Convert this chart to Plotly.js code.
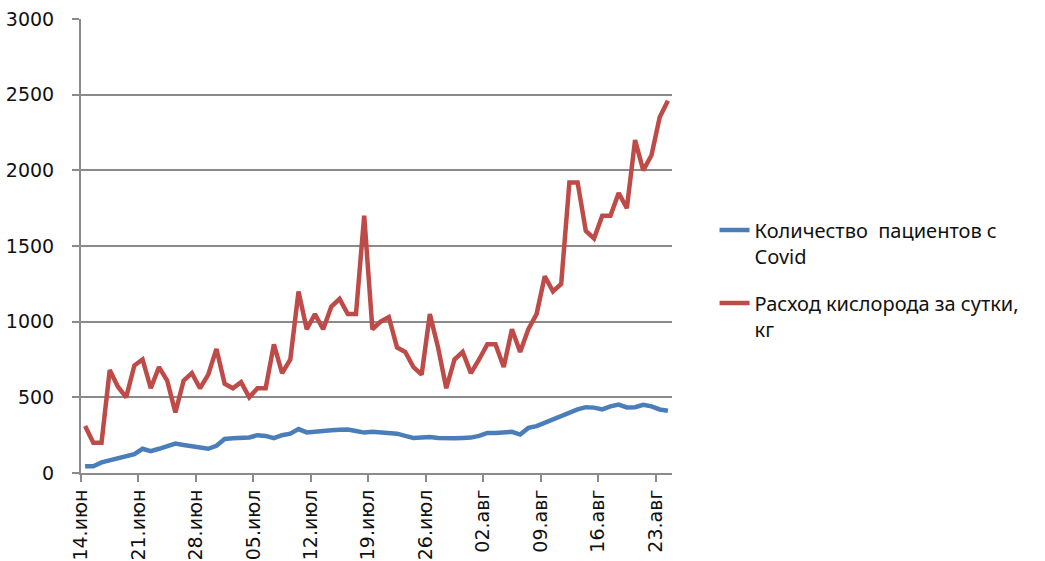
<!DOCTYPE html>
<html>
<head>
<meta charset="utf-8">
<script src="https://cdn.plot.ly/plotly-3.0.1.min.js"></script>
<style>
  html, body { margin: 0; padding: 0; background: #ffffff; }
  #chart { width: 1045px; height: 561px; }
</style>
</head>
<body>
<div id="chart"></div>
<script>
// Dates (one point per day, 2021)
const dates = [
  "2021-06-14","2021-06-15","2021-06-16","2021-06-17","2021-06-18","2021-06-19","2021-06-20",
  "2021-06-21","2021-06-22","2021-06-23","2021-06-24","2021-06-25","2021-06-26","2021-06-27",
  "2021-06-28","2021-06-29","2021-06-30","2021-07-01","2021-07-02","2021-07-03","2021-07-04",
  "2021-07-05","2021-07-06","2021-07-07","2021-07-08","2021-07-09","2021-07-10","2021-07-11",
  "2021-07-12","2021-07-13","2021-07-14","2021-07-15","2021-07-16","2021-07-17","2021-07-18",
  "2021-07-19","2021-07-20","2021-07-21","2021-07-22","2021-07-23","2021-07-24","2021-07-25",
  "2021-07-26","2021-07-27","2021-07-28","2021-07-29","2021-07-30","2021-07-31","2021-08-01",
  "2021-08-02","2021-08-03","2021-08-04","2021-08-05","2021-08-06","2021-08-07","2021-08-08",
  "2021-08-09","2021-08-10","2021-08-11","2021-08-12","2021-08-13","2021-08-14","2021-08-15",
  "2021-08-16","2021-08-17","2021-08-18","2021-08-19","2021-08-20","2021-08-21","2021-08-22",
  "2021-08-23","2021-08-24"
];

// Количество пациентов с Covid
const patients = [
  45, 45, 70, 85, 100, 110, 125,
  160, 145, 160, 180, 195, 185, 175,
  165, 160, 180, 225, 230, 230, 235,
  250, 245, 230, 250, 260, 290, 268,
  275, 282, 282, 285, 287, 278, 267,
  272, 268, 265, 260, 245, 232, 235,
  238, 232, 228, 230, 232, 234, 245,
  265, 265, 268, 272, 254, 298, 310,
  331, 355, 380, 400, 420, 435, 432,
  420, 440, 452, 433, 435, 450, 440,
  420, 412
];

// Расход кислорода за сутки, кг
const oxygen = [
  310, 200, 200, 680, 570, 500, 710,
  750, 560, 700, 610, 400, 610, 660,
  560, 650, 820, 590, 560, 600, 500,
  560, 560, 850, 660, 750, 1200, 950,
  1050, 950, 1100, 1150, 1050, 1050, 1700,
  950, 1000, 1030, 830, 800, 700, 650,
  1050, 830, 560, 750, 800, 660, 750,
  850, 850, 700, 950, 800, 950, 1050,
  1300, 1200, 1250, 1920, 1920, 1600, 1550,
  1700, 1700, 1850, 1750, 2200, 2000, 2100,
  2350, 2460
];

const tickDates = ["2021-06-14","2021-06-21","2021-06-28","2021-07-05","2021-07-12","2021-07-19",
                   "2021-07-26","2021-08-02","2021-08-09","2021-08-16","2021-08-23"];
const tickLabels = ["14.июн","21.июн","28.июн","05.июл","12.июл","19.июл",
                    "26.июл","02.авг","09.авг","16.авг","23.авг"];
const yTicks = [0, 500, 1000, 1500, 2000, 2500, 3000];

const seriesNames = ["Количество\u00a0 пациентов с<br>Covid", "Расход кислорода за сутки,<br>кг"];

const traces = [
  {
    x: dates, y: patients, type: "scatter", mode: "lines",
    name: seriesNames[0],
    xperiod: 86400000, xperiodalignment: "middle",
    line: { color: "#4A7EBB", width: 4.5 },
    legendgroup: "a"
  },
  {
    x: dates, y: oxygen, type: "scatter", mode: "lines",
    name: seriesNames[1],
    xperiod: 86400000, xperiodalignment: "middle",
    line: { color: "#BE4B48", width: 4.5 },
    legendgroup: "b"
  }
];

const gridColor = "#8A8A8A";

const layout = {
  width: 1045, height: 561,
  margin: { l: 81, r: 373, t: 19, b: 88, pad: 0 },
  paper_bgcolor: "#ffffff", plot_bgcolor: "#ffffff",
  showlegend: true,
  legend: {
    x: 1.072, xanchor: "left",
    y: 0.578, yanchor: "top",
    valign: "top",
    font: { family: "Noto Sans", size: 20, color: "#111111" },
    tracegroupgap: 18,
    bgcolor: "rgba(0,0,0,0)"
  },
  xaxis: {
    type: "date",
    range: ["2021-06-14", "2021-08-25"],
    tickmode: "array",
    tickvals: tickDates,
    ticktext: tickLabels,
    tickangle: -90,
    ticks: "outside", ticklen: 7, tickwidth: 2, tickcolor: gridColor,
    showline: true, linecolor: gridColor, linewidth: 2,
    showgrid: false, zeroline: false,
    tickfont: { family: "DejaVu Sans", size: 19, color: "#111111" },
    fixedrange: true
  },
  yaxis: {
    range: [0, 3000],
    tickmode: "array",
    tickvals: yTicks,
    ticks: "outside", ticklen: 7, tickwidth: 2, tickcolor: gridColor,
    showline: true, linecolor: gridColor, linewidth: 2,
    showgrid: true, gridcolor: gridColor, gridwidth: 2,
    zeroline: false,
    tickfont: { family: "DejaVu Sans", size: 19, color: "#111111" },
    ticklabelstandoff: 14,
    fixedrange: true
  }
};

Plotly.newPlot("chart", traces, layout, { displayModeBar: false, staticPlot: true });
</script>
</body>
</html>
